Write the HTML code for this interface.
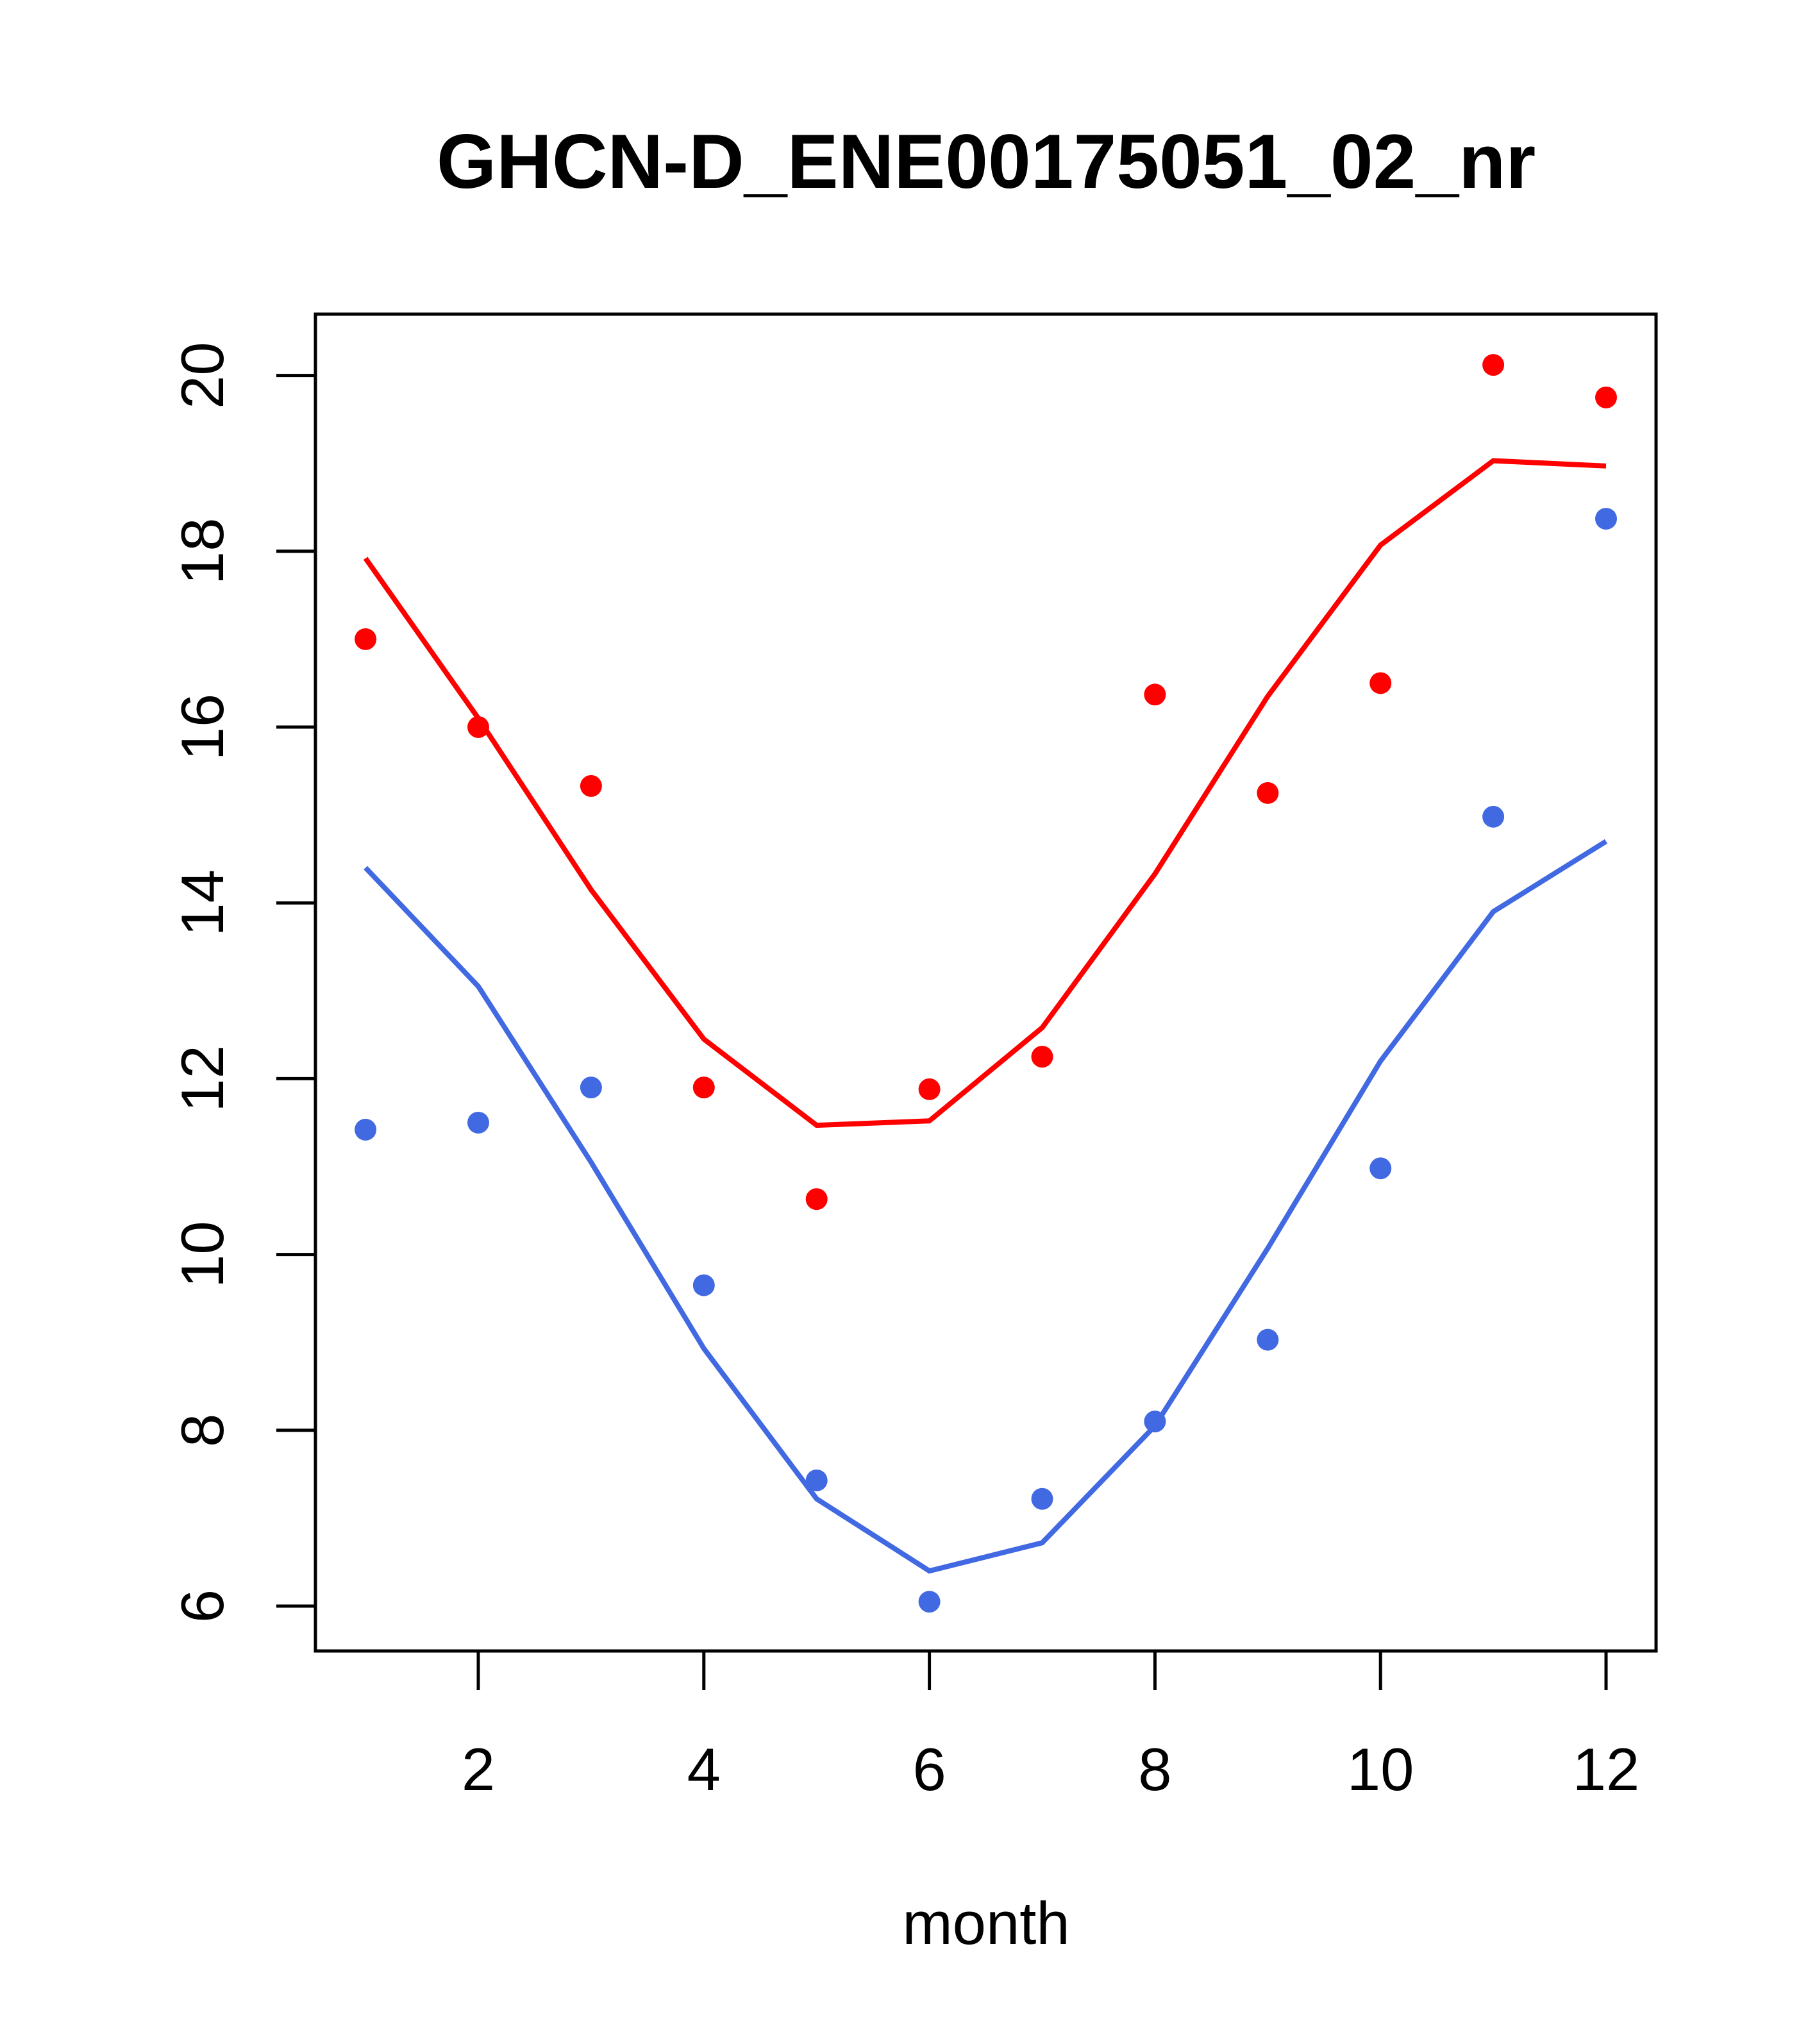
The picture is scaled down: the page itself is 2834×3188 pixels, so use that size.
<!DOCTYPE html>
<html><head><meta charset="utf-8"><style>body{margin:0;background:#fff}svg{display:block}</style></head>
<body>
<svg id="chart" width="2834" height="3188" viewBox="0 0 2834 3188" xmlns="http://www.w3.org/2000/svg" font-family="Liberation Sans, sans-serif">
<rect width="2834" height="3188" fill="#fff"/>
<text x="1538" y="293" font-size="120" font-weight="bold" text-anchor="middle">GHCN-D_ENE00175051_02_nr</text>
<rect x="492" y="490" width="2091" height="2085" fill="none" stroke="#000" stroke-width="5"/>
<text x="1538" y="3032" font-size="94" text-anchor="middle">month</text>
<g id="axes"></g><g id="series"></g>
</svg>
<script>
const months=[1,2,3,4,5,6,7,8,9,10,11,12];
const redPoints=[17.0,16.0,15.33,11.9,10.63,11.88,12.25,16.37,15.25,16.5,20.12,19.75];
const redLine=[17.92,16.1,14.15,12.45,11.47,11.52,12.58,14.33,16.35,18.07,19.03,18.97];
const bluePoints=[11.42,11.5,11.9,9.65,7.43,6.05,7.22,8.1,9.03,10.98,14.98,18.37];
const blueLine=[14.4,13.05,11.05,8.93,7.22,6.4,6.72,8.05,10.07,12.2,13.9,14.7];
const xTicks=[2,4,6,8,10,12];
const yTicks=[6,8,10,12,14,16,18,20];
const NS="http://www.w3.org/2000/svg";
const X=v=>746+(v-2)*175.9;
const Y=v=>2505-(v-6)*137.1;
function mk(t,a,p){const e=document.createElementNS(NS,t);for(const k in a)e.setAttribute(k,a[k]);p.appendChild(e);return e;}
const ax=document.getElementById('axes'),se=document.getElementById('series');
xTicks.forEach(t=>{
 const l=mk('line',{x1:X(t),x2:X(t),y1:2575,y2:2636,stroke:'#000','stroke-width':5},ax);
 
 
 const tx=mk('text',{x:X(t),y:2792,'font-size':94,'text-anchor':'middle'},ax);tx.textContent=t;
 
 
});
yTicks.forEach(t=>{
 const l=mk('line',{x1:431,x2:492,y1:Y(t),y2:Y(t),stroke:'#000','stroke-width':5},ax);
 
 
 const tx=mk('text',{x:0,y:0,'font-size':94,'text-anchor':'middle',transform:`translate(348,${Y(t)}) rotate(-90)`},ax);tx.textContent=t;
 
 
});
function series(line,pts,color,name){
 const pl=mk('polyline',{points:months.map((m,i)=>X(m)+','+Y(line[i])).join(' '),fill:'none',stroke:color,'stroke-width':8},se);
 
 
 months.forEach((m,i)=>{
  const c=mk('circle',{cx:X(m),cy:Y(pts[i]),r:17,fill:color},se);
  
  
 });
}
series(redLine,redPoints,'#ff0000','red');
series(blueLine,bluePoints,'#4169e1','blue');
</script>
</body></html>
